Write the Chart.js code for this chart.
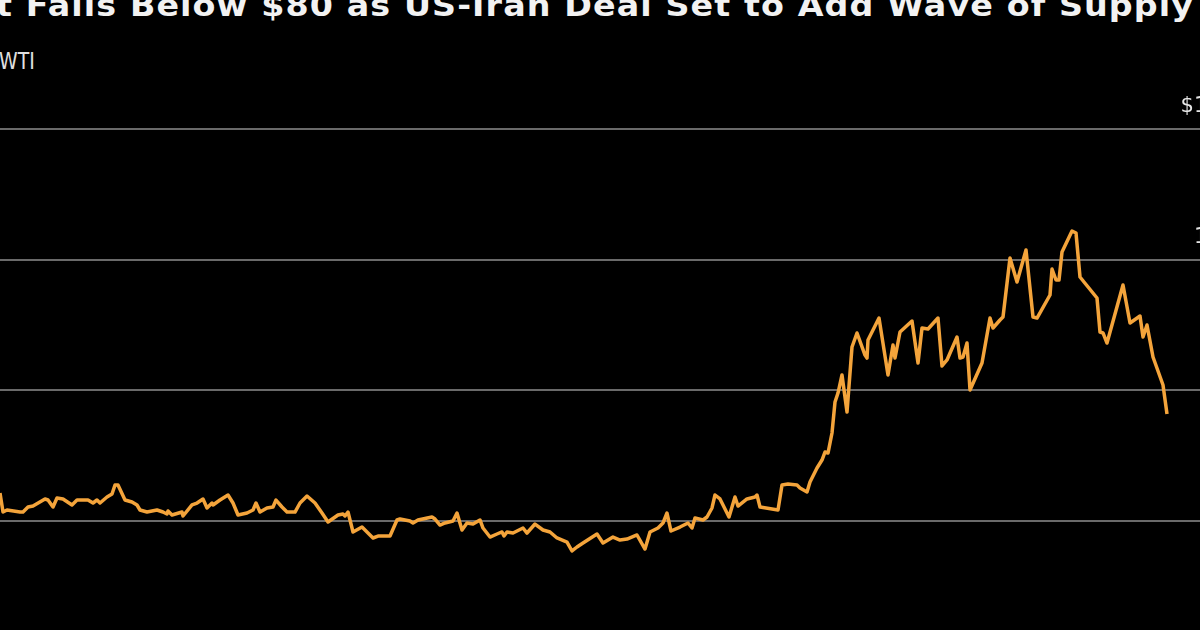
<!DOCTYPE html>
<html>
<head>
<meta charset="utf-8">
<title>WTI</title>
<script src="https://cdn.jsdelivr.net/npm/chart.js"></script>
<style>
  html, body { margin: 0; padding: 0; background: #000; width: 1200px; height: 630px; overflow: hidden; }
  #title { position: absolute; left: -4px; top: -12px; white-space: nowrap; color: #f2f2f2; letter-spacing: 1px;
           font: bold 30px "DejaVu Sans", sans-serif; line-height: 36px; transform: scaleX(1.11); transform-origin: left top; }
  #sub { position: absolute; left: -1px; top: 47px; color: #e0e0e0; font: 23px "DejaVu Sans", sans-serif;
         transform: scaleX(0.82); transform-origin: left top; line-height: 28px; }
  #wrap { position: absolute; left: 0; top: 0; width: 1240px; height: 630px; }
</style>
</head>
<body>
<div id="title">t Falls Below $80 as US-Iran Deal Set to Add Wave of Supply</div>
<div id="sub">WTI</div>
<div id="wrap"><canvas id="chart"></canvas></div>
<script>
// trading-day position and WTI price
const days = [0, 0.75, 1.75, 5, 5.75, 7, 8.25, 11.25, 12, 13.25, 14.25, 15.75, 18, 19.25, 22, 23.25, 24.25, 25, 26.75, 28,
  28.75, 29.5, 31.25, 33, 34.25, 35, 36.75, 39.25, 40.75, 41.75, 42, 43, 45.5, 45.75, 48, 49.25, 50.75, 51.75, 53, 53.25,
  55, 57, 58.25, 59.5, 61.75, 63.25, 64, 65, 66.75, 68.25, 69, 70.5, 71.75, 73.75, 75, 76.75, 78.75, 80.5, 82, 84.5,
  85.75, 86.25, 87, 88.25, 90.5, 91.75, 93.25, 94.5, 97.5, 99.25, 100, 102.5, 103.25, 104.5, 108, 108.75, 110, 111.25, 113.25, 114.25,
  115.5, 116.75, 118.25, 120, 120.75, 122.5, 124.25, 125.5, 126, 126.75, 128.25, 130.75, 131.75, 133.75, 135.75, 137.5, 139.25, 141.75, 143, 144.25,
  145.75, 149.25, 150.75, 153.25, 155, 156.75, 159.25, 161.25, 162.5, 164.5, 165.75, 166.75, 167.75, 170, 172, 173, 173.75, 175.75, 176.75, 178,
  178.75, 180, 182.25, 183.75, 184.5, 186.75, 188.75, 189.25, 190, 194.5, 195.5, 197, 199.25, 200, 201.75, 202.5, 204.25, 205.5, 206.25, 207,
  208, 208.75, 209.5, 210.5, 211.75, 213, 214.25, 216.25, 216.75, 217, 219.75, 222, 223.25, 223.75, 225, 228, 229.5, 230.5, 232, 234.5,
  235.5, 236.75, 239.25, 240, 240.75, 241.75, 242.5, 245.5, 247.5, 248.25, 250, 250.75, 252.5, 254.25, 256.5, 258.25, 259.25, 262.5, 263, 264,
  264.75, 265.5, 268, 269, 270, 271, 274.25, 275, 275.75, 276.75, 280.75, 282.5, 285, 285.75, 286.75, 288.25, 290.75, 291.75];

const prices = [64.21, 61.30, 61.61, 61.30, 61.30, 62.07, 62.22, 63.30, 63.14, 62.07, 63.45, 63.30, 62.38, 63.14, 63.14, 62.68, 63.14, 62.68, 63.60, 64.06,
  65.44, 65.44, 63.14, 62.84, 62.38, 61.61, 61.30, 61.61, 61.30, 61.00, 61.46, 60.84, 61.30, 60.69, 62.38, 62.68, 63.30, 61.92, 62.68, 62.38,
  63.14, 63.91, 62.68, 60.84, 61.15, 61.61, 62.68, 61.30, 61.92, 62.07, 63.14, 62.07, 61.30, 61.30, 62.68, 63.75, 62.68, 61.15, 59.77, 60.84,
  61.00, 60.69, 61.30, 58.24, 59.00, 58.24, 57.32, 57.62, 57.62, 60.08, 60.23, 59.92, 59.62, 60.08, 60.54, 60.23, 59.31, 59.62, 59.92, 61.15,
  58.55, 59.62, 59.46, 60.08, 58.85, 57.47, 57.93, 58.24, 57.62, 58.24, 58.08, 58.85, 58.08, 59.46, 58.55, 58.24, 57.32, 56.70, 55.33, 55.94,
  56.55, 57.93, 56.55, 57.47, 57.01, 57.16, 57.78, 55.63, 58.24, 58.85, 59.62, 61.15, 58.39, 59.00, 59.62, 58.85, 60.38, 60.08, 60.54, 61.92,
  63.91, 63.30, 60.54, 63.60, 62.22, 63.30, 63.60, 63.91, 62.07, 61.61, 65.44, 65.59, 65.44, 64.98, 64.37, 65.90, 68.05, 69.27, 70.50, 70.34,
  73.41, 78.16, 79.54, 82.30, 76.63, 86.59, 88.74, 85.36, 84.90, 87.66, 91.03, 82.30, 86.90, 84.90, 88.89, 90.57, 84.14, 89.50, 89.35, 91.03,
  83.68, 84.60, 88.12, 84.90, 85.06, 87.20, 80.00, 84.14, 91.03, 89.50, 90.73, 91.19, 100.23, 96.55, 101.46, 91.19, 91.03, 94.56, 98.54, 96.86,
  96.86, 101.15, 104.37, 104.06, 97.32, 96.55, 94.10, 88.89, 88.74, 87.20, 96.09, 90.27, 91.34, 88.12, 89.96, 85.06, 80.77, 76.32];

const tickValues = [60, 80, 100, 120];
const tickLabels = ['60', '80', '100', '$120'];

const yMin = 43.22, yMax = 139.77;
const xMax = 310;

// value labels sit above their gridline, right aligned past the right edge
const tickLabelPlugin = {
  id: 'tickLabels',
  afterDraw(chart) {
    const { ctx, scales: { y } } = chart;
    ctx.save();
    ctx.fillStyle = '#e6e6e6';
    ctx.font = '21px "DejaVu Sans"';
    ctx.textAlign = 'right';
    ctx.textBaseline = 'middle';
    tickValues.forEach((v, i) => ctx.fillText(tickLabels[i], 1234, y.getPixelForValue(v) - 22));
    ctx.restore();
  }
};

new Chart(document.getElementById('chart'), {
  type: 'line',
  data: {
    datasets: [{
      label: 'WTI',
      data: days.map((d, i) => ({ x: d, y: prices[i] })),
      borderColor: '#f4a43b',
      borderWidth: 3.5,
      pointRadius: 0,
      tension: 0,
      borderJoinStyle: 'round'
    }]
  },
  options: {
    responsive: true,
    maintainAspectRatio: false,
    animation: false,
    layout: { padding: 0 },
    plugins: { legend: { display: false }, tooltip: { enabled: false } },
    scales: {
      x: { type: 'linear', min: 0, max: xMax, display: false },
      y: {
        position: 'right',
        min: yMin, max: yMax,
        afterFit: s => { s.width = 0; },
        afterBuildTicks: s => { s.ticks = tickValues.map(v => ({ value: v })); },
        border: { display: false },
        grid: { color: '#6a6a6a', lineWidth: 2, drawTicks: false },
        ticks: { display: false }
      }
    }
  },
  plugins: [tickLabelPlugin]
});
</script>
</body>
</html>
